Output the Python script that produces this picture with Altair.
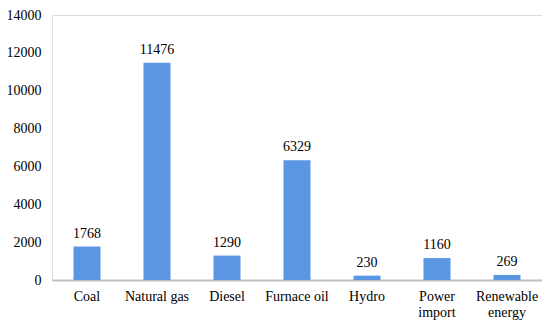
import altair as alt
import pandas as pd

categories = ["Coal", "Natural gas", "Diesel", "Furnace oil", "Hydro", "Power import", "Renewable energy"]
axis_labels = ["Coal", "Natural gas", "Diesel", "Furnace oil", "Hydro", "Power\nimport", "Renewable\nenergy"]
values = [1768, 11476, 1290, 6329, 230, 1160, 269]
y_ticks = [0, 2000, 4000, 6000, 8000, 10000, 12000, 14000]

df = pd.DataFrame({"cat": axis_labels, "value": values})

FONT = "Liberation Serif"

base = alt.Chart(df).encode(
    x=alt.X("cat:N", sort=axis_labels, title=None,
            scale=alt.Scale(paddingInner=0, paddingOuter=0),
            axis=alt.Axis(labelAngle=0, ticks=False, domainColor="#bfbfbf", domainWidth=2,
                          labelPadding=9, labelOverlap=False,
                          labelExpr="split(datum.label, '\\n')", labelLineHeight=16)),
    y=alt.Y("value:Q", title=None,
            scale=alt.Scale(domain=[0, 14000], nice=False),
            axis=alt.Axis(values=y_ticks, format="d", grid=False, ticks=False, domain=False,
                          labelOverlap=False, labelPadding=11)),
)

bars = base.mark_bar(width=27, color="#5b96e2")
labels = base.mark_text(baseline="bottom", dy=-6, font=FONT, fontSize=14, color="#000000").encode(
    text=alt.Text("value:Q", format="d"))

chart = (bars + labels).properties(
    width=490, height=265,
    autosize=alt.AutoSizeParams(type="none"),
    padding={"left": 44, "top": 7, "right": 0, "bottom": 40},
).configure_view(stroke=None).configure(
    background="#ffffff", font=FONT
).configure_axis(labelFont=FONT, labelFontSize=14, labelColor="#000000")

chart.save("out.html", embed_options={"renderer": "svg", "actions": False})
